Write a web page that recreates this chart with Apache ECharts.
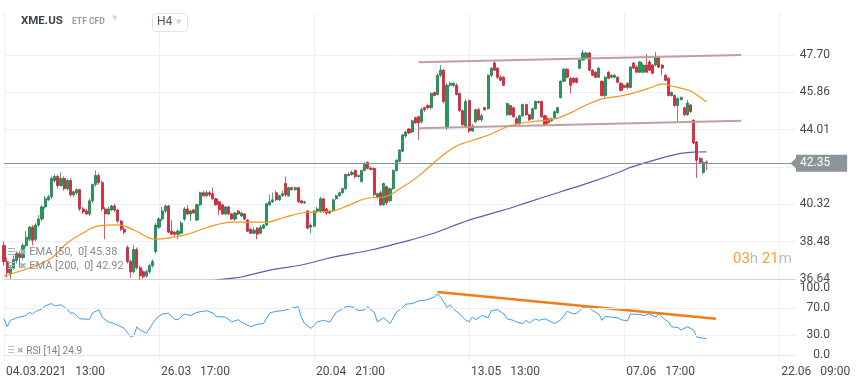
<!DOCTYPE html>
<html><head><meta charset="utf-8">
<script src="https://cdn.jsdelivr.net/npm/echarts/dist/echarts.min.js"></script>
<style>html,body{margin:0;padding:0;background:#fff}#c{width:859px;height:385px}</style>
</head><body><div id="c"></div>
<script>
const opens=[38.30,37.50,36.90,37.20,37.55,37.90,37.70,38.30,38.60,39.20,
38.60,39.30,39.60,40.20,40.55,40.70,41.50,41.70,41.25,41.60,
41.10,41.50,40.80,40.90,41.05,40.10,40.00,39.85,40.50,41.30,
41.75,41.40,40.10,39.85,40.05,40.25,40.05,39.50,39.10,38.20,
37.50,37.00,38.10,37.20,37.00,36.80,37.00,37.30,38.00,39.20,
39.60,40.00,40.25,39.00,38.95,38.85,38.90,39.60,40.10,39.85,
40.05,39.55,40.30,40.90,40.75,40.90,40.85,40.60,40.45,40.30,
39.85,40.20,39.85,39.60,40.00,39.75,39.85,39.55,39.10,38.90,
39.15,38.90,39.15,39.30,40.30,40.45,40.90,40.55,40.75,41.35,
40.75,41.15,41.05,41.15,40.50,40.40,40.00,39.20,39.25,40.00,
40.00,40.60,40.10,39.90,40.00,40.60,40.75,40.90,41.10,41.80,
41.80,42.00,41.70,41.45,42.00,42.40,42.10,42.10,40.70,40.90,
40.30,41.20,40.50,41.10,42.00,42.45,42.95,43.70,44.05,43.90,
44.60,44.65,44.40,45.10,45.20,45.10,45.85,45.75,46.70,46.95,
44.15,46.20,46.20,46.20,45.80,44.95,44.20,45.45,43.95,44.40,
45.00,44.50,45.10,45.05,46.70,47.30,47.05,46.60,46.60,44.75,
45.20,45.10,44.55,44.30,44.70,45.25,44.75,44.55,45.05,45.40,
45.40,44.70,44.55,44.45,44.60,44.85,45.60,46.40,47.00,46.55,
46.55,46.55,47.05,47.45,47.55,47.80,46.95,46.85,46.60,46.40,
45.70,46.85,46.60,46.60,46.60,46.30,46.10,46.30,46.10,47.30,
47.10,46.85,46.85,47.20,47.35,47.20,47.20,47.55,47.20,46.70,
46.55,45.70,45.70,45.20,45.50,45.10,44.75,45.23,44.49,43.40,
42.60,41.90,42.40];
const closes=[37.50,36.95,37.20,37.60,37.90,37.70,38.30,38.70,39.20,38.55,
39.30,39.60,40.20,40.60,40.70,41.60,41.70,41.25,41.60,41.10,
41.50,40.80,40.95,41.05,40.10,39.95,39.85,40.50,41.30,41.75,
41.40,40.10,39.85,40.10,40.25,40.05,39.50,39.10,38.95,37.50,
37.00,38.10,37.20,36.80,36.75,37.00,37.30,37.50,39.30,39.60,
40.00,40.25,38.95,38.85,38.85,39.00,39.40,40.10,39.85,40.00,
39.90,40.30,40.90,40.75,40.90,40.80,40.60,40.30,40.05,39.85,
40.20,39.85,39.60,39.90,39.85,39.90,39.60,39.00,38.90,39.05,
38.85,39.20,39.30,40.35,40.45,40.55,40.55,40.75,40.85,40.80,
41.15,41.05,41.15,40.45,40.40,40.45,39.15,39.30,40.00,40.10,
40.60,40.00,39.90,40.00,40.55,40.75,40.90,41.10,41.80,41.75,
41.90,41.70,41.75,42.00,42.30,42.10,42.05,40.80,40.85,40.30,
41.35,40.40,41.10,42.00,42.50,43.00,43.75,43.90,43.85,44.45,
44.35,44.35,45.00,45.00,45.10,45.80,45.70,46.70,46.95,45.40,
46.20,46.30,46.30,45.75,44.95,44.25,45.40,43.95,44.20,45.00,
44.50,44.70,45.00,46.70,47.05,46.95,46.60,46.45,46.20,45.30,
44.75,44.65,44.30,44.70,45.25,44.75,44.50,45.05,45.40,45.35,
44.65,44.25,44.35,44.55,44.90,45.10,46.40,47.00,46.60,46.20,
46.35,46.35,47.45,47.80,47.80,46.95,46.70,46.60,47.05,45.70,
46.60,46.55,46.70,46.70,46.35,45.95,46.20,46.10,47.10,47.05,
46.85,47.35,47.20,46.85,46.95,46.80,47.55,47.10,47.05,46.45,
45.70,45.85,45.20,45.55,45.60,44.75,45.33,44.90,43.35,42.50,
42.40,42.40,42.35];
const lows=[37.30,36.70,36.65,37.10,37.40,37.20,37.60,38.20,38.50,38.30,
38.50,39.20,39.50,40.10,40.50,40.60,41.40,41.10,41.20,41.00,
41.00,40.70,40.70,40.80,40.00,39.85,39.80,39.75,40.40,41.20,
41.30,40.00,38.60,39.80,40.00,39.95,39.40,39.00,38.85,37.40,
36.70,36.90,37.10,36.60,36.65,36.70,36.90,37.20,37.90,39.10,
39.50,39.90,38.90,38.80,38.75,38.60,38.85,39.50,39.80,39.50,
39.85,39.50,40.25,40.70,40.70,40.70,40.55,40.25,39.80,39.80,
39.80,39.80,39.55,39.50,39.80,39.70,39.55,38.95,38.85,38.85,
38.60,38.85,39.10,39.25,40.25,40.40,40.50,40.50,40.70,40.70,
40.70,41.00,41.00,40.40,40.35,40.35,39.10,38.90,39.20,39.90,
39.90,39.90,39.80,39.85,39.95,40.55,40.70,40.85,41.05,41.70,
41.75,41.60,41.65,41.40,41.95,42.05,42.00,40.70,40.60,40.25,
40.25,40.30,40.45,41.05,41.95,42.40,42.90,43.60,43.80,43.85,
44.30,43.50,44.30,44.90,45.00,45.00,45.65,45.70,46.60,45.30,
44.00,46.15,46.10,45.70,44.90,44.20,44.10,43.85,43.90,44.35,
44.45,44.40,44.95,45.00,46.60,46.90,46.50,46.40,46.15,44.70,
44.70,44.60,44.25,44.25,44.65,44.70,44.45,44.50,45.00,45.30,
44.60,44.20,44.30,44.40,44.55,44.80,45.55,46.35,46.55,45.80,
46.30,46.30,47.00,47.40,47.50,46.90,46.65,46.55,46.55,45.65,
45.60,46.50,46.55,46.55,46.30,45.90,46.05,46.00,46.05,47.00,
46.80,46.80,46.80,46.80,46.90,46.75,47.15,47.05,46.70,46.40,
45.65,45.65,45.15,44.40,45.45,44.70,44.70,44.85,43.30,41.63,
42.35,41.80,42.00];
const highs=[38.50,37.70,37.30,37.80,38.00,38.00,38.40,39.00,39.25,39.30,
39.40,39.80,40.30,40.75,40.80,41.70,41.80,41.80,41.90,41.70,
41.60,41.60,41.00,41.10,41.10,40.20,40.10,40.60,41.35,42.00,
41.85,41.50,40.20,40.20,40.30,40.35,40.10,39.55,39.20,38.30,
37.60,38.30,38.20,37.30,37.10,37.10,37.40,37.60,39.40,39.70,
40.20,40.30,40.30,39.55,39.00,39.10,39.50,40.20,40.30,40.05,
40.10,40.35,40.95,41.00,41.00,41.00,41.15,40.65,40.50,40.35,
40.25,40.25,39.90,39.95,40.05,39.95,39.90,39.60,39.15,39.20,
39.20,39.30,39.35,40.40,40.80,40.90,41.00,40.80,41.00,41.70,
41.20,41.20,41.20,41.20,40.55,40.50,40.05,39.40,40.05,40.20,
40.70,40.65,40.15,40.05,40.60,40.80,40.95,41.15,41.85,41.90,
42.00,42.05,41.80,42.05,42.40,42.45,42.20,42.15,40.90,41.00,
41.40,41.25,41.15,42.05,42.55,43.05,43.80,43.95,44.10,44.50,
44.65,44.70,45.10,45.15,45.30,45.85,45.90,46.80,47.20,47.00,
46.30,46.40,46.35,46.30,45.85,45.00,45.50,45.50,44.30,45.05,
45.10,44.80,45.15,46.75,47.10,47.45,47.10,46.70,46.65,45.35,
45.25,45.15,44.65,44.75,45.30,45.30,44.80,45.10,45.45,45.45,
45.45,44.75,44.60,44.60,44.95,45.15,46.45,47.05,47.05,46.60,
46.60,46.60,47.50,47.95,47.85,47.85,47.00,46.90,47.10,46.45,
46.65,46.90,46.75,46.75,46.65,46.35,46.25,46.35,47.15,47.35,
47.20,47.40,47.30,47.75,47.45,47.25,47.85,47.60,47.25,46.75,
46.60,45.90,45.75,45.60,45.65,45.15,45.48,45.28,44.50,43.45,
42.65,42.60,42.50];

const ema50=[[0,36.79],[8,37.18],[15,37.68],[20,38.42],[25,38.91],[30,39.26],[36,39.31],[41,39.06],[46,38.66],[48,38.61],[57,38.81],[62,39.06],[67,39.31],[72,39.45],[78,39.45],[83,39.45],[88,39.65],[94,39.90],[99,39.95],[104,40.00],[109,40.29],[115,40.64],[120,40.69],[125,41.08],[131,41.72],[138,42.66],[143,43.21],[148,43.48],[154,43.80],[160,44.22],[166,44.39],[174,44.54],[179,44.84],[184,45.23],[189,45.53],[195,45.68],[200,45.87],[205,46.12],[208,46.27],[211,46.17],[217,45.92],[219,45.72],[222,45.38]];
const ema200=[[62,36.39],[67,36.59],[75,36.74],[84,37.08],[94,37.33],[104,37.72],[116,38.07],[125,38.42],[135,38.86],[147,39.55],[157,40.00],[166,40.45],[176,40.95],[185,41.40],[195,41.95],[198,42.15],[208,42.62],[214,42.84],[219,42.91],[222,42.92]];
const rsi=[[0,54.3],[1,42.3],[2,51.9],[4,55.8],[7,59.1],[8,63.9],[9,61.5],[10,65.4],[12,68.8],[13,73.6],[15,76.9],[16,73.6],[18,75.0],[20,68.8],[21,62.5],[22,63.0],[24,54.3],[27,53.4],[28,63.0],[30,67.8],[31,56.7],[33,49.5],[34,48.6],[36,44.7],[38,39.9],[40,27.9],[41,28.8],[42,42.3],[43,37.5],[45,32.7],[47,47.1],[48,54.3],[50,61.5],[52,62.5],[54,53.4],[55,52.9],[57,61.5],[59,59.1],[61,63.9],[64,66.3],[66,63.0],[67,57.7],[70,56.7],[72,49.5],[74,52.9],[75,49.5],[78,42.3],[80,46.2],[82,47.1],[84,63.0],[86,65.4],[88,66.3],[89,67.3],[91,70.2],[93,72.1],[94,55.8],[95,47.1],[97,39.9],[99,49.5],[101,51.9],[103,49.5],[105,63.9],[107,68.8],[108,72.6],[110,72.1],[112,66.3],[114,67.8],[115,72.1],[117,63.9],[118,49.5],[120,55.8],[122,47.1],[124,63.9],[126,71.2],[127,76.0],[129,76.9],[131,80.8],[133,81.7],[134,83.2],[136,86.5],[137,91.3],[138,86.5],[140,71.2],[141,75.0],[142,68.8],[144,61.5],[146,51.9],[147,49.5],[148,56.7],[149,52.9],[151,59.1],[153,55.8],[154,66.3],[156,67.8],[158,61.5],[159,54.3],[161,51.9],[162,49.5],[164,47.1],[165,51.9],[166,48.1],[168,54.3],[169,51.9],[171,54.3],[173,49.5],[174,47.1],[176,52.9],[178,65.4],[180,61.5],[181,62.5],[183,71.2],[185,72.1],[186,66.3],[188,61.5],[189,51.9],[190,57.7],[192,56.7],[194,55.8],[195,52.9],[197,51.0],[198,61.5],[201,60.6],[202,59.1],[204,61.5],[206,56.7],[207,62.5],[208,56.7],[210,49.5],[211,42.3],[213,41.3],[214,37.5],[216,42.3],[218,37.5],[219,26.9],[221,25.3],[222,24.9]];
const channelUpper=[[131,47.34],[233,47.70]];
const channelLower=[[131,44.08],[233,44.45]];
const rsiTrend=[[137,94.0],[225,54.5]];
const rsiGuides=[30,70];
const lastPrice=42.35;
const priceTicks=['36.64','38.48','40.32','44.01','45.86','47.70'];
const rsiTicks=[0,30,70,100];
const xTickIndex=[0,49,98,147,196,245];
const xTickLabels=['04.03.2021   13:00','26.03   17:00','20.04   21:00','13.05   13:00','07.06   17:00','22.06   09:00'];
const slotCount=251;

const chart=echarts.init(document.getElementById('c'),null,{renderer:'canvas',width:859,height:385});
const cats=Array.from({length:slotCount},(_,i)=>String(i));
const candles=opens.map((o,i)=>[o,closes[i],lows[i],highs[i]]);
const FONT='Roboto';
const GRID='#eef0f2';
const isTick=i=>xTickIndex.indexOf(i)>=0;
const xLabel=(v,i)=>{const k=xTickIndex.indexOf(i);return k>=0?xTickLabels[k]:'';};
const priceLabel=v=>{for(const t of priceTicks){if(Math.abs(parseFloat(t)-v)<0.02)return t;}return '';};
const rsiLabel=v=>rsiTicks.some(t=>Math.abs(t-v)<0.01)?Math.abs(v).toFixed(1):'';
const T='rgba(0,0,0,0)';

const option={
  animation:false,
  backgroundColor:'#fff',
  grid:[{left:4,right:64,top:13,height:266},{left:4,right:64,top:283,height:79}],
  xAxis:[
    {type:'category',gridIndex:0,data:cats,boundaryGap:false,
     axisLine:{show:true,lineStyle:{color:'#cdd1d4'}},axisTick:{show:false},axisLabel:{show:false},
     splitLine:{show:true,interval:(i)=>isTick(i),lineStyle:{color:GRID}}},
    {type:'category',gridIndex:1,data:cats,boundaryGap:false,
     axisLine:{show:true,lineStyle:{color:'#e3e6e8'}},axisTick:{show:false},
     axisLabel:{show:true,interval:0,formatter:xLabel,align:'left',margin:4,color:'#4a4a4a',fontSize:12,fontFamily:FONT,padding:[0,0,0,2]},
     splitLine:{show:true,interval:(i)=>isTick(i),lineStyle:{color:GRID}}}
  ],
  yAxis:[
    {type:'value',gridIndex:0,position:'right',min:36.64,max:49.773,interval:1.843333,
     axisLine:{show:false},axisTick:{show:false},
     axisLabel:{formatter:priceLabel,align:'right',margin:35,color:'#4a4a4a',fontSize:12,fontFamily:FONT},
     splitLine:{show:true,lineStyle:{color:[GRID,GRID,GRID,GRID,GRID,GRID,GRID,T,T]}}},
    {type:'value',gridIndex:1,position:'right',min:-10,max:107.5,interval:10,
     axisLine:{show:false},axisTick:{show:false},
     axisLabel:{formatter:rsiLabel,align:'right',margin:35,color:'#4a4a4a',fontSize:12,fontFamily:FONT},
     splitLine:{show:false}}
  ],
  series:[
    {type:'candlestick',xAxisIndex:0,yAxisIndex:0,data:candles,barWidth:2.6,z:2,
     itemStyle:{color:'#1f9a5a',color0:'#e0283b',borderColor:'#10703f',borderColor0:'#b3192b',borderWidth:0.7},
     markLine:{silent:true,animation:false,symbol:['none','path://M0,0L10,0L5,10Z'],symbolSize:[17,9],
       lineStyle:{color:'#8b9599',width:1,type:'solid'},
       label:{show:true,position:'end',distance:1,formatter:()=>lastPrice.toFixed(2),color:'#fff',backgroundColor:'#8b9599',padding:[3,17,2,4],fontSize:12,fontFamily:FONT},
       data:[{yAxis:lastPrice}]}},
    {type:'line',xAxisIndex:0,yAxisIndex:0,data:ema50,smooth:0.4,symbol:'none',silent:true,z:3,lineStyle:{color:'#f7941d',width:1.2}},
    {type:'line',xAxisIndex:0,yAxisIndex:0,data:ema200,smooth:0.4,symbol:'none',silent:true,z:3,lineStyle:{color:'#5b5db3',width:1.2}},
    {type:'line',xAxisIndex:0,yAxisIndex:0,data:channelUpper,symbol:'none',silent:true,z:4,lineStyle:{color:'#bb9595',width:2,opacity:0.9}},
    {type:'line',xAxisIndex:0,yAxisIndex:0,data:channelLower,symbol:'none',silent:true,z:4,lineStyle:{color:'#bb9595',width:2,opacity:0.9}},
    {type:'line',xAxisIndex:1,yAxisIndex:1,data:rsi,symbol:'none',silent:true,z:3,lineStyle:{color:'#3d9df2',width:1},
     markLine:{silent:true,animation:false,symbol:'none',label:{show:false},lineStyle:{color:'#eceef0',type:'solid',width:1},data:rsiGuides.map(v=>({yAxis:v}))}},
    {type:'line',xAxisIndex:1,yAxisIndex:1,data:rsiTrend,symbol:'none',silent:true,z:4,lineStyle:{color:'#f27d16',width:2.5}}
  ],
  graphic:[
    {type:'text',left:21,top:15,z:100,style:{text:'XME.US',font:'bold 11.5px Roboto',fill:'#3c4650'}},
    {type:'text',left:72,top:17,z:100,style:{text:'ETF CFD',font:'bold 8.5px Roboto',fill:'#93a0ab'}},
    {type:'text',left:112,top:15,z:100,style:{text:'▼',font:'7px "DejaVu Sans"',fill:'#d3d8dc'}},
    {type:'rect',z:100,shape:{x:152.5,y:13.5,width:35,height:18,r:3},style:{fill:'#fff',stroke:'#dfe3e6',lineWidth:1}},
    {type:'text',left:157,top:16,z:101,style:{text:'H4',font:'12px Roboto',fill:'#4a5560'}},
    {type:'text',left:176,top:19,z:101,style:{text:'▼',font:'7px "DejaVu Sans"',fill:'#cfd4d8'}},
    {type:'text',left:7,top:247,z:100,style:{text:'{i|☰}{x|✖} EMA [50,  0] '+ema50[ema50.length-1][1].toFixed(2),font:'11px Roboto',fill:'#8a8a8a',
      rich:{i:{fontSize:10,fontFamily:'DejaVu Sans',fill:'#aab1b7',padding:[0,3,0,0]},x:{fontSize:9,fontFamily:'DejaVu Sans',fill:'#aab1b7'}}}},
    {type:'text',left:7,top:261,z:100,style:{text:'{i|☰}{x|✖} EMA [200,  0] '+ema200[ema200.length-1][1].toFixed(2),font:'11px Roboto',fill:'#8a8a8a',
      rich:{i:{fontSize:10,fontFamily:'DejaVu Sans',fill:'#aab1b7',padding:[0,3,0,0]},x:{fontSize:9,fontFamily:'DejaVu Sans',fill:'#aab1b7'}}}},
    {type:'text',left:7,top:346,z:100,style:{text:'{i|☰}{x|✖} RSI [14] '+rsi[rsi.length-1][1].toFixed(1),font:'10px Roboto',fill:'#808080',
      rich:{i:{fontSize:9,fontFamily:'DejaVu Sans',fill:'#aab1b7',padding:[0,2,0,0]},x:{fontSize:8,fontFamily:'DejaVu Sans',fill:'#aab1b7'}}}},
    {type:'text',left:733,top:252,z:100,style:{text:'{o|03}{g|h} {o|21}{g|m}',font:'15px Roboto',
      rich:{o:{fontSize:15,fontFamily:'Roboto',fill:'#f7a12b'},g:{fontSize:15,fontFamily:'Roboto',fill:'#b7bec4'}}}}
  ]
};
chart.setOption(option);
</script>
</body></html>
